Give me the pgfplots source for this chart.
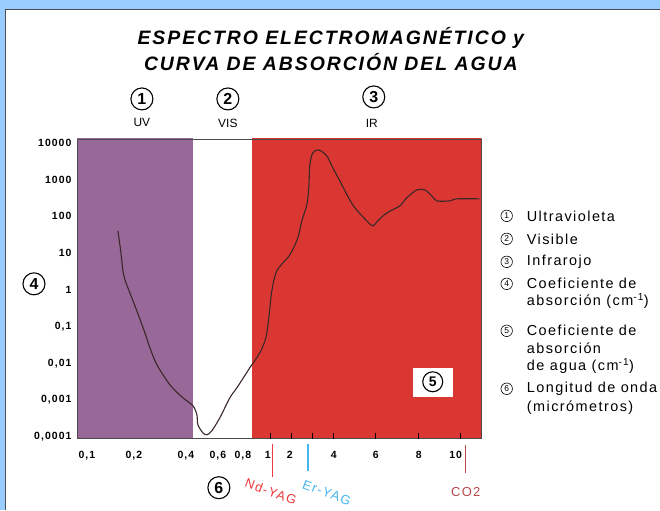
\documentclass[border=0pt]{standalone}
\usepackage{pgfplots}
\pgfplotsset{compat=1.18}
\usepackage{fontspec}
\setmainfont{Liberation Sans}
\newfontfamily\spfont[LetterSpace=10]{Liberation Sans}
\definecolor{frameblue}{HTML}{99CCFF}
\definecolor{uvpurple}{HTML}{986898}
\definecolor{irred}{HTML}{DA3732}
\definecolor{curvec}{HTML}{3A2828}
\definecolor{ndred}{HTML}{E83A3F}
\definecolor{erblue}{HTML}{45B6F0}
\definecolor{cored}{HTML}{B8464A}
\tikzset{
  bignum/.style={circle, draw=black, line width=1.1bp, minimum size=22bp, inner sep=0pt, font=\fontsize{16}{16}\selectfont\bfseries},
  smallnum/.style={circle, draw=black, line width=0.6bp, minimum size=11.5bp, inner sep=0pt, font=\fontsize{8.5}{8.5}\selectfont},
  legtxt/.style={anchor=west, inner sep=0pt, font=\spfont\fontsize{14.5}{14.5}\selectfont},
}
\begin{document}
\begin{tikzpicture}[x=1bp,y=1bp]
\fill[frameblue] (0,0) rectangle (660,510);
\fill[white] (5,0) rectangle (660,501);
\draw[gray!60!black, line width=0.8bp] (5,0) -- (5,501) -- (660,501);
\begin{axis}[
  at={(77bp,71bp)}, anchor=south west,
  scale only axis, width=405bp, height=300bp,
  xmin=77, xmax=482,
  ymode=log, ymin=8.83e-5, ymax=12850,
  axis on top,
  axis line style={draw=gray!60!black, line width=0.7bp},
  xtick pos=bottom, ytick pos=left,
  major tick length=0pt,
  xtick={87,134,186,218,243,268,290,334,376,419,456},
  xticklabels={{0,1},{0,2},{0,4},{0,6},{0,8},1,2,4,6,8,10},
  ytick={1e-4,1e-3,0.01,0.1,1,10,100,1000,10000},
  yticklabels={{0,0001},{0,001},{0,01},{0,1},1,10,100,1000,10000},
  minor tick num=0,
  yminorticks=false,
  extra x ticks={271,292,313,334,376,419,461},
  extra x tick labels={},
  extra x tick style={major tick length=6bp, tick align=inside, tick style={black, line width=0.8bp}},
  tick label style={font=\spfont\fontsize{10.5}{11}\selectfont\bfseries},
  xticklabel style={yshift=-9bp},
  yticklabel style={xshift=-2bp},
]
\fill[uvpurple] (axis cs:77,1e-6) rectangle (axis cs:193,1e6);
\fill[irred] (axis cs:252,1e-6) rectangle (axis cs:482,1e6);
\addplot[curvec, line width=1.1bp, smooth, tension=0.5] coordinates {
(118,40.3) (121,10.2) (123,3.29) (125,1.87) (128,1.13) (135,0.367)
(145,0.0676) (150,0.0264) (157,0.0091) (170,0.0026) (183,0.00115)
(193,0.000698) (197,0.000397) (198,0.000212) (203,0.000128) (207,0.000113)
(212,0.000146) (220,0.000329) (230,0.00115) (237,0.00215) (250,0.00755)
(260,0.0193) (266,0.0494) (269,0.173) (272,0.94) (277,3.29) (290,8.96)
(298,26.0) (302,75.4) (307,205) (309,597) (310,2520) (313,5340) (319,6450)
(327,4430) (332,2370) (340,925) (353,205) (367,75.4) (373,55.1) (378,75.4)
(387,124) (400,193) (407,319) (417,526) (425,526) (432,361) (437,264)
(450,264) (457,300) (480,300)
};
\end{axis}
% box 5
\fill[white] (413,113) rectangle (453,142);
\node[bignum, minimum size=20bp, font=\fontsize{14}{14}\selectfont\bfseries] at (433,128) {5};
% title
\node[font=\spfont\fontsize{19.5}{19.5}\selectfont\bfseries\itshape] at (331,472) {ESPECTRO ELECTROMAGNÉTICO y};
\node[font=\spfont\fontsize{19.5}{19.5}\selectfont\bfseries\itshape] at (331,448) {CURVA DE ABSORCIÓN DEL AGUA};
% region labels
\node[bignum] at (142,411) {1};
\node[bignum] at (228,411) {2};
\node[bignum] at (374,413) {3};
\node[font=\fontsize{12}{12}\selectfont] at (142,387) {UV};
\node[font=\fontsize{12}{12}\selectfont] at (228,387) {VIS};
\node[font=\fontsize{12}{12}\selectfont] at (372,387) {IR};
\node[bignum] at (34,226) {4};
\node[bignum] at (219,22) {6};
% lasers
\draw[ndred, line width=1.1bp] (273,66) -- (273,33);
\draw[erblue, line width=1.5bp] (308,66) -- (308,39);
\draw[cored, line width=1.1bp] (466,65) -- (466,37);
\node[ndred, rotate=-20, inner sep=0pt, font=\spfont\fontsize{13}{13}\selectfont] at (271,18) {Nd-YAG};
\node[erblue, rotate=-20, inner sep=0pt, font=\spfont\fontsize{13}{13}\selectfont] at (327,17) {Er-YAG};
\node[cored, font=\spfont\fontsize{13}{13}\selectfont] at (466,18) {CO2};
% legend
\node[smallnum] at (507,294) {1};
\node[smallnum] at (507,271) {2};
\node[smallnum] at (507,248) {3};
\node[smallnum] at (507,226) {4};
\node[smallnum] at (507,179) {5};
\node[smallnum] at (507,121) {6};
\node[legtxt] at (527,294) {Ultravioleta};
\node[legtxt] at (527,271) {Visible};
\node[legtxt] at (527,248) {Infrarojo};
\node[legtxt] at (527,226) {Coeficiente de};
\node[legtxt] at (527,209) {absorción (cm\textsuperscript{-1})};
\node[legtxt] at (527,179) {Coeficiente de};
\node[legtxt] at (527,162) {absorción};
\node[legtxt] at (527,144) {de agua (cm\textsuperscript{-1})};
\node[legtxt] at (527,121) {Longitud de onda};
\node[legtxt] at (527,102) {(micrómetros)};
\path[use as bounding box] (0,0) rectangle (660,510);
\end{tikzpicture}
\end{document}
